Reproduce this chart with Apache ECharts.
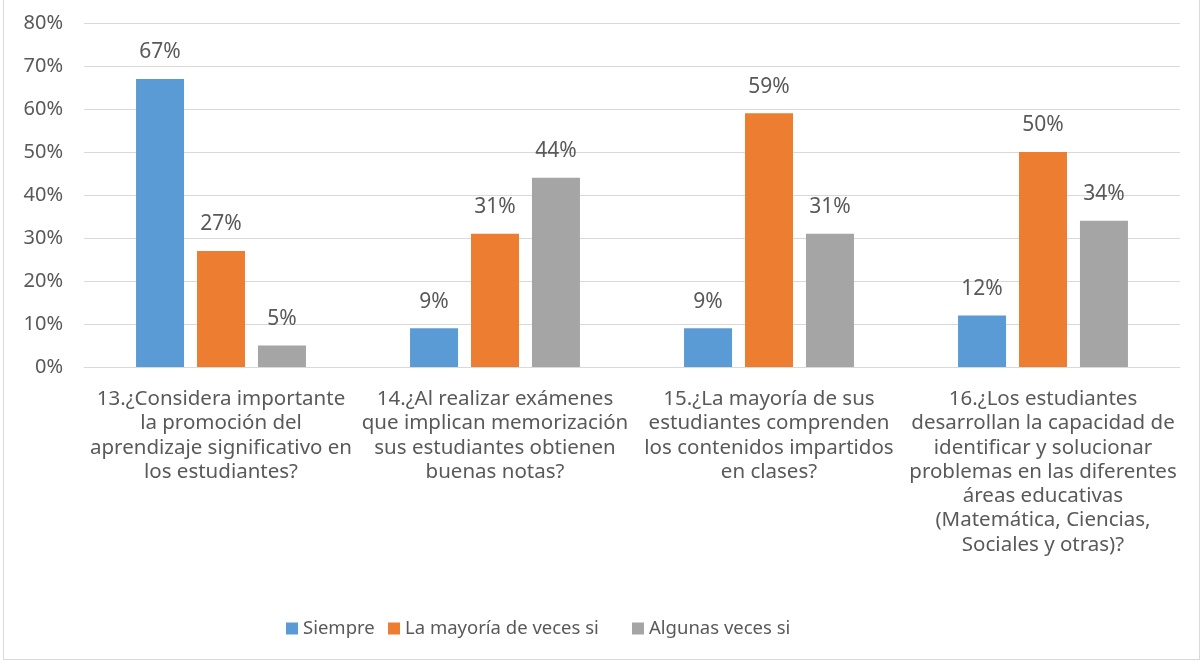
<!DOCTYPE html>
<html>
<head>
<meta charset="utf-8">
<style>
  html, body { margin: 0; padding: 0; background: #fff; }
  #chart { position: absolute; left: 3px; top: -2px; width: 1197px; height: 662px; border: 1px solid #d9d9d9; box-sizing: border-box; }
</style>
<script src="https://cdn.jsdelivr.net/npm/echarts@6/dist/echarts.min.js"></script>
</head>
<body>
<div id="chart"></div>
<script>
  const categories = [
    '13.¿Considera importante\nla promoción del\naprendizaje significativo en\nlos estudiantes?',
    '14.¿Al realizar exámenes\nque implican memorización\nsus estudiantes obtienen\nbuenas notas?',
    '15.¿La mayoría de sus\nestudiantes comprenden\nlos contenidos impartidos\nen clases?',
    '16.¿Los estudiantes\ndesarrollan la capacidad de\nidentificar y solucionar\nproblemas en las diferentes\náreas educativas\n(Matemática, Ciencias,\nSociales y otras)?'
  ];
  const siempre = [67, 9, 9, 12];
  const mayoria = [27, 31, 59, 50];
  const algunas = [5, 44, 31, 34];
  const seriesNames = ['Siempre', 'La mayoría de veces si', 'Algunas veces si'];
  const colors = ['#5B9BD5', '#ED7D31', '#A5A5A5'];

  const font = '"Noto Sans", sans-serif';
  const textColor = '#595959';

  const chart = echarts.init(document.getElementById('chart'));

  function makeSeries(name, data, color) {
    return {
      name: name,
      type: 'bar',
      data: data,
      barWidth: 48,
      barGap: '27%',
      itemStyle: { color: color },
      label: {
        show: true,
        position: 'top',
        distance: 16,
        formatter: '{c}%',
        color: textColor,
        fontSize: 21,
        fontFamily: font
      }
    };
  }

  // Excel-style legend: items sit at uneven spacing, so one legend per item
  const legendLefts = [282, 384, 628];
  const legends = seriesNames.map((name, i) => ({
    left: legendLefts[i],
    top: 620,
    padding: 0,
    itemWidth: 12,
    itemHeight: 12,
    itemGap: 8,
    icon: 'rect',
    textStyle: { color: textColor, fontSize: 18.5, fontFamily: font },
    data: [name]
  }));

  chart.setOption({
    animation: false,
    color: colors,
    grid: { left: 80, right: 19, top: 24, bottom: 292 },
    legend: legends,
    xAxis: {
      type: 'category',
      data: categories,
      axisLine: { lineStyle: { color: '#d9d9d9' } },
      axisTick: { show: false },
      axisLabel: {
        interval: 0,
        margin: 20,
        color: textColor,
        fontSize: 20.5,
        lineHeight: 24.3,
        fontFamily: font
      }
    },
    yAxis: {
      type: 'value',
      min: 0,
      max: 80,
      interval: 10,
      axisLine: { show: false },
      axisTick: { show: false },
      splitLine: { lineStyle: { color: '#d9d9d9' } },
      axisLabel: {
        formatter: '{value}%',
        margin: 21,
        color: textColor,
        fontSize: 20,
        fontFamily: font
      }
    },
    series: [
      makeSeries(seriesNames[0], siempre, colors[0]),
      makeSeries(seriesNames[1], mayoria, colors[1]),
      makeSeries(seriesNames[2], algunas, colors[2])
    ]
  });
</script>
</body>
</html>
